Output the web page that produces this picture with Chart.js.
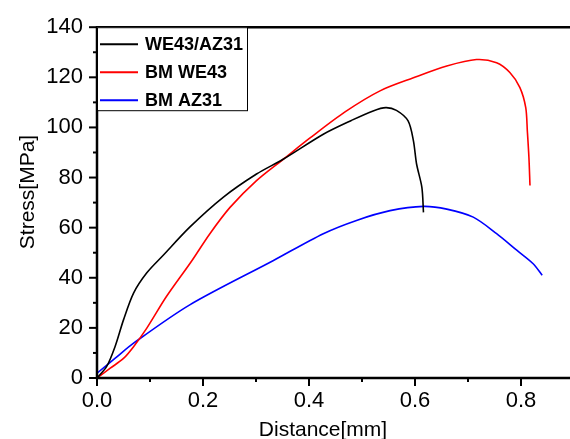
<!DOCTYPE html>
<html lang="en">
<head>
    <meta charset="UTF-8">
    <title>Stress vs Distance</title>
    <script src="https://cdn.jsdelivr.net/npm/chart.js"></script>
    <style>
        body {
            margin: 0;
            padding: 0;
            background: #fff;
            overflow: hidden;
        }
        #wrap {
            width: 570px;
            height: 439px;
        }
    </style>
</head>
<body>
<div id="wrap"><canvas id="chart"></canvas></div>

<script>
    // WE43/AZ31 joint
    const weX = [0, 0.018, 0.034, 0.050, 0.069, 0.094, 0.125, 0.175, 0.238, 0.301, 0.352, 0.427, 0.480, 0.521, 0.545, 0.565, 0.587, 0.597, 0.603, 0.613, 0.616];
    const weY = [0, 4.5, 12.5, 23.2, 33.9, 42, 49, 60.2, 72.1, 81.4, 87.4, 97.3, 102.8, 106.6, 107.9, 106.8, 102.6, 94.7, 85.4, 76.1, 66.1];

    // base metal WE43
    const bmWeX = [0, 0.025, 0.050, 0.069, 0.094, 0.131, 0.178, 0.213, 0.251, 0.301, 0.352, 0.402, 0.468, 0.534, 0.597, 0.660, 0.716, 0.754, 0.779, 0.798, 0.809, 0.812, 0.815, 0.817];
    const bmWeY = [0, 3.9, 7.8, 12.5, 19.9, 32.5, 46.5, 57.6, 68.1, 78.8, 87.4, 95.8, 106.2, 114.6, 119.8, 124.5, 127.1, 125.8, 121.9, 115.9, 107.9, 98.6, 88, 76.8];

    // base metal AZ31
    const bmAzX = [0, 0.035, 0.069, 0.175, 0.333, 0.427, 0.491, 0.553, 0.616, 0.660, 0.710, 0.754, 0.792, 0.823, 0.840];
    const bmAzY = [1.9, 8, 13.9, 29.2, 46.9, 57.6, 63, 66.8, 68.5, 67.4, 64.2, 57.6, 51, 45.6, 41];

    const seriesNames = ["WE43/AZ31", "BM WE43", "BM AZ31"];
    const seriesColors = ["#000000", "#ff0000", "#0000ff"];

    const xTickValues = [0, 0.1, 0.2, 0.3, 0.4, 0.5, 0.6, 0.7, 0.8];
    const xLabels = ["0.0", "", "0.2", "", "0.4", "", "0.6", "", "0.8"];
    const yTickValues = [0, 10, 20, 30, 40, 50, 60, 70, 80, 90, 100, 110, 120, 130, 140];
    const yLabels = ["0", "", "20", "", "40", "", "60", "", "80", "", "100", "", "120", "", "140"];

    const FONT = "'Liberation Sans', Arial, sans-serif";

    function toPoints(xs, ys) {
        return xs.map((x, i) => ({ x: x, y: ys[i] }));
    }

    // frame, tick marks, axis titles and boxed legend like the original plot
    const framePlugin = {
        id: "frame",
        afterDraw(chart) {
            const ctx = chart.ctx;
            const a = chart.chartArea;
            const xs = chart.scales.x, ys = chart.scales.y;
            ctx.save();
            ctx.strokeStyle = "#000";
            ctx.lineWidth = 2.5;
            ctx.beginPath();
            ctx.moveTo(a.right + 5, a.top);
            ctx.lineTo(a.left, a.top);
            ctx.lineTo(a.left, a.bottom);
            ctx.lineTo(a.right + 5, a.bottom);
            ctx.stroke();

            ctx.lineWidth = 2;
            xTickValues.forEach((v, i) => {
                const px = xs.getPixelForValue(v);
                const len = xLabels[i] ? 8 : 4;
                ctx.beginPath();
                ctx.moveTo(px, a.bottom);
                ctx.lineTo(px, a.bottom + len);
                ctx.stroke();
            });
            yTickValues.forEach((v, i) => {
                const py = ys.getPixelForValue(v);
                const len = yLabels[i] ? 8 : 4;
                ctx.beginPath();
                ctx.moveTo(a.left, py);
                ctx.lineTo(a.left - len, py);
                ctx.stroke();
            });

            // axis titles
            ctx.fillStyle = "#000";
            ctx.font = "21px " + FONT;
            ctx.textAlign = "center";
            ctx.textBaseline = "alphabetic";
            ctx.fillText("Distance[mm]", 323, 436);
            ctx.save();
            ctx.translate(34, 192);
            ctx.rotate(-Math.PI / 2);
            ctx.fillText("Stress[MPa]", 0, 0);
            ctx.restore();

            // legend box
            ctx.fillStyle = "#fff";
            ctx.fillRect(a.left, a.top, 150, 83);
            ctx.lineWidth = 1;
            ctx.strokeStyle = "#000";
            ctx.strokeRect(a.left + 0.5, a.top + 0.5, 150, 83);
            ctx.font = "bold 18px " + FONT;
            ctx.textAlign = "left";
            ctx.textBaseline = "middle";
            chart.data.datasets.forEach((ds, i) => {
                const cy = a.top + 17 + i * 28;
                ctx.strokeStyle = ds.borderColor;
                ctx.lineWidth = 2;
                ctx.beginPath();
                ctx.moveTo(a.left + 3, cy);
                ctx.lineTo(a.left + 41, cy);
                ctx.stroke();
                ctx.fillStyle = "#000";
                ctx.fillText(ds.label, a.left + 48, cy + 1);
            });
            ctx.restore();
        }
    };

    new Chart(document.getElementById("chart"), {
        type: "scatter",
        data: {
            datasets: [
                { label: seriesNames[0], data: toPoints(weX, weY) },
                { label: seriesNames[1], data: toPoints(bmWeX, bmWeY) },
                { label: seriesNames[2], data: toPoints(bmAzX, bmAzY) }
            ].map((ds, i) => Object.assign(ds, {
                showLine: true,
                borderColor: seriesColors[i],
                backgroundColor: seriesColors[i],
                borderWidth: 1.6,
                pointRadius: 0,
                tension: 0.3
            }))
        },
        options: {
            responsive: true,
            maintainAspectRatio: false,
            animation: false,
            layout: { padding: { top: 26, right: 0, left: 0, bottom: 0 } },
            plugins: {
                legend: { display: false },
                tooltip: { enabled: false }
            },
            scales: {
                x: {
                    type: "linear",
                    min: 0,
                    max: 0.8925,
                    grid: { display: false, drawTicks: false },
                    border: { display: false },
                    afterBuildTicks: s => { s.ticks = xTickValues.map(v => ({ value: v })); },
                    afterFit: s => { s.height = 61; },
                    ticks: {
                        autoSkip: false,
                        maxRotation: 0,
                        padding: 10,
                        color: "#000",
                        font: { size: 22, family: FONT },
                        callback: (v, i) => xLabels[i]
                    }
                },
                y: {
                    min: 0,
                    max: 140,
                    grid: { display: false, drawTicks: false },
                    border: { display: false },
                    afterBuildTicks: s => { s.ticks = yTickValues.map(v => ({ value: v })); },
                    afterFit: s => { s.width = 97; },
                    ticks: {
                        autoSkip: false,
                        padding: 14,
                        color: "#000",
                        font: { size: 22, family: FONT },
                        callback: (v, i) => yLabels[i]
                    }
                }
            }
        },
        plugins: [framePlugin]
    });
</script>
</body>
</html>
